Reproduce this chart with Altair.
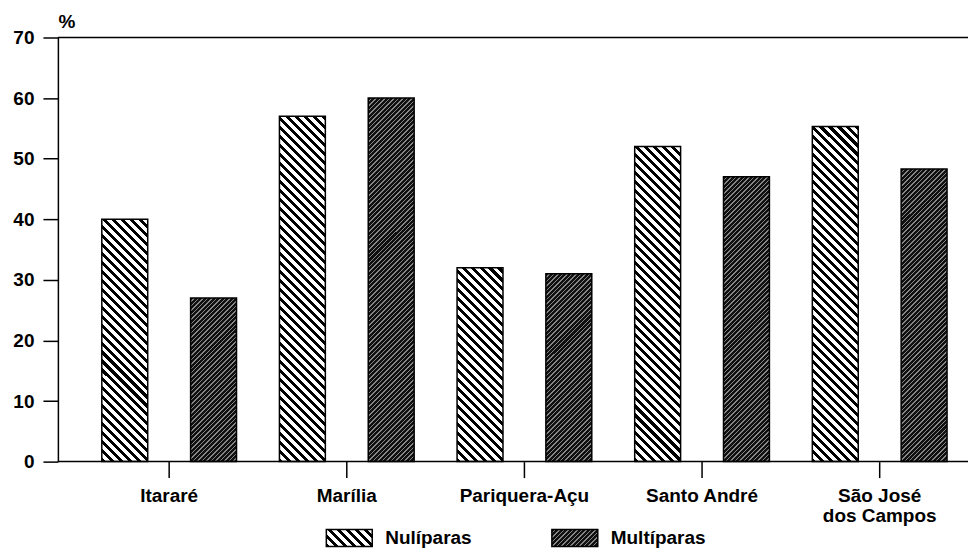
import altair as alt

# ---- data -------------------------------------------------------------
cities = ["Itararé", "Marília", "Pariquera-Açu", "Santo André", "São José\ndos Campos"]
groups = ["Nulíparas", "Multíparas"]
nuliparas = [40, 57, 32, 52, 55.3]
multiparas = [27, 60, 31, 47, 48.3]
y_ticks = [0, 10, 20, 30, 40, 50, 60, 70]

# ---- layout -----------------------------------------------------------
PLOT_W = 912
PLOT_H = 425
Y_MAX = 70
BAR_W = 46
LEG_H = 17
FONT = "Liberation Sans"
FS = 19

rows = []
for c, n, m in zip(cities, nuliparas, multiparas):
    rows.append({"cidade": c, "grupo": groups[0], "pct": n})
    rows.append({"cidade": c, "grupo": groups[1], "pct": m})


def stops(period, frac, on, off, n):
    parts = []
    for k in range(n):
        a = round(k * period, 3)
        b = round(a + period * frac, 3)
        c = round((k + 1) * period, 3)
        for o, col in ((a, on), (b, on), (b, off), (c, off)):
            parts.append("{offset:min(1,%s/datum.S),color:'%s'}" % (o, col))
    return "[" + ",".join(parts) + "]"


# hatch patterns built as hard-stop linear gradients ("\\\\" and "////")
NUL = ("{gradient:'linear',x1:0,y1:1,x2:datum.L*datum.W,y2:1-datum.L*datum.H,stops:%s}"
       % stops(9, 0.45, "#000000", "#ffffff", 48))
MUL = ("{gradient:'linear',x1:0,y1:0,x2:datum.L*datum.W,y2:datum.L*datum.H,stops:%s}"
       % stops(4.5, 0.67, "#101010", "#868686", 95))
GRAD = "datum.grupo == '%s' ? %s : %s" % (groups[0], NUL, MUL)


def hatch(chart, w_expr, h_expr):
    return (chart.transform_calculate(W=w_expr, H=h_expr)
            .transform_calculate(S="datum.W + datum.H")
            .transform_calculate(L="datum.S / (datum.W*datum.W + datum.H*datum.H)")
            .transform_calculate(grad=GRAD))


x_scale = alt.Scale(domain=cities, range=[22.5, 912.5], paddingInner=0, paddingOuter=0)

x_enc = alt.X(
    "cidade:N", sort=cities, title=None, scale=x_scale,
    axis=alt.Axis(labelExpr="split(datum.label, '\\n')", labelAngle=0, labelFontSize=FS,
                  labelFontWeight="bold", labelFont=FONT, labelColor="black", labelPadding=9,
                  labelLineHeight=20, tickSize=16, tickWidth=1.5, tickColor="black",
                  domain=False, labelOverlap=False))

y_scale = alt.Scale(domain=[0, Y_MAX], nice=False, zero=True)
y_enc = alt.Y(
    "pct:Q", scale=y_scale,
    axis=alt.Axis(values=y_ticks, format="d", title="%", titleAngle=0, titleX=0, titleY=-10,
                  titleAlign="left", titleBaseline="alphabetic", titleFontSize=FS,
                  titleFont=FONT, titleFontWeight="bold", titleColor="black", grid=False,
                  tickSize=15, tickWidth=1.5, tickColor="black", labelFontSize=FS,
                  labelFont=FONT, labelFontWeight="bold", labelColor="black", labelPadding=9,
                  domainColor="black", domainWidth=1.5))

data = alt.Data(values=rows)

bars = hatch(alt.Chart(data), str(BAR_W), "datum.pct*%s" % (PLOT_H / Y_MAX)).mark_bar(
    stroke="black", strokeWidth=1.5
).encode(
    x=x_enc,
    xOffset=alt.XOffset("grupo:N", sort=groups,
                        scale=alt.Scale(domain=groups, paddingInner=0.483, paddingOuter=0.2416)),
    y=y_enc,
    fill=alt.Fill("grad:N", scale=None),
)

# frame lines (baseline and top border) spanning the full plot width
frame = alt.Chart(alt.Data(values=[{"v": y_ticks[0]}, {"v": y_ticks[-1]}])).mark_rule(
    color="black", strokeWidth=1.5
).encode(y=alt.Y("v:Q", scale=y_scale))

main = alt.layer(bars, frame).properties(width=PLOT_W, height=PLOT_H)

# ---- legend -----------------------------------------------------------
leg_data = alt.Data(values=[{"grupo": g} for g in groups])
leg_x = alt.X("grupo:N", sort=groups,
              scale=alt.Scale(domain=groups, range=[269, 541], paddingInner=0.7965,
                              paddingOuter=0),
              axis=None)
leg_sw = hatch(alt.Chart(leg_data), str(BAR_W), str(LEG_H)).mark_bar(
    stroke="black", strokeWidth=1.5
).encode(x=leg_x, fill=alt.Fill("grad:N", scale=None))
leg_tx = alt.Chart(leg_data).mark_text(
    align="left", dx=36, font=FONT, fontSize=FS, fontWeight="bold", color="black"
).encode(x=leg_x, text="grupo:N")
legend = alt.layer(leg_sw, leg_tx).properties(width=PLOT_W, height=LEG_H)

chart = alt.vconcat(main, legend, spacing=68, bounds="flush").properties(
    padding={"left": 4, "top": 4, "right": 0, "bottom": 0}
).configure_view(stroke=None)

chart.save("out.html", embed_options={"renderer": "svg", "actions": False})
